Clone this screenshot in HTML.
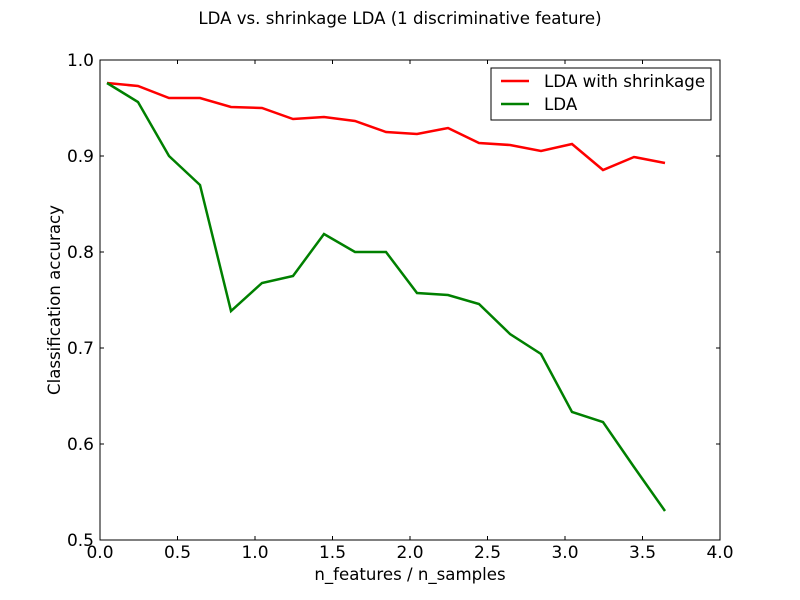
<!DOCTYPE html>
<html><head><meta charset="utf-8"><style>body{margin:0;background:#fff}svg{display:block}text{font-family:"DejaVu Sans","Liberation Sans",sans-serif;fill:#000}</style></head><body>
<svg width="800" height="600" viewBox="0 0 800 600">
<rect width="800" height="600" fill="#fff"/>
<text x="400" y="24" font-size="16.6" text-anchor="middle">LDA vs. shrinkage LDA (1 discriminative feature)</text>
<g stroke="#000" stroke-width="1">
<line x1="100" y1="540" x2="100" y2="536"/><line x1="100" y1="60" x2="100" y2="64"/>
<line x1="177.5" y1="540" x2="177.5" y2="536"/><line x1="177.5" y1="60" x2="177.5" y2="64"/>
<line x1="255" y1="540" x2="255" y2="536"/><line x1="255" y1="60" x2="255" y2="64"/>
<line x1="332.5" y1="540" x2="332.5" y2="536"/><line x1="332.5" y1="60" x2="332.5" y2="64"/>
<line x1="410" y1="540" x2="410" y2="536"/><line x1="410" y1="60" x2="410" y2="64"/>
<line x1="487.5" y1="540" x2="487.5" y2="536"/><line x1="487.5" y1="60" x2="487.5" y2="64"/>
<line x1="565" y1="540" x2="565" y2="536"/><line x1="565" y1="60" x2="565" y2="64"/>
<line x1="642.5" y1="540" x2="642.5" y2="536"/><line x1="642.5" y1="60" x2="642.5" y2="64"/>
<line x1="100" y1="156" x2="104" y2="156"/><line x1="720" y1="156" x2="716" y2="156"/>
<line x1="100" y1="252" x2="104" y2="252"/><line x1="720" y1="252" x2="716" y2="252"/>
<line x1="100" y1="348" x2="104" y2="348"/><line x1="720" y1="348" x2="716" y2="348"/>
<line x1="100" y1="444" x2="104" y2="444"/><line x1="720" y1="444" x2="716" y2="444"/>
</g>
<polyline fill="none" stroke="#ff0000" stroke-width="2.5" points="107,83 138,86 169,98 200,98 231,107 262,108 293,119 324,117 355,121 386,132 417,134 448,128 479,143 510,145 541,151 572,144 603,170 634,157 665,163"/>
<polyline fill="none" stroke="#008000" stroke-width="2.5" points="107,83 138,102 169,156 200,185 231,311 262,283 293,276 324,234 355,252 386,252 417,293 448,295 479,304 510,334 541,354 572,412 603,422 634,467 665,511"/>
<rect x="100" y="60" width="620" height="480" fill="none" stroke="#000" stroke-width="1"/>
<g font-size="17" text-anchor="middle">
<text x="100" y="558">0.0</text><text x="177.5" y="558">0.5</text><text x="255" y="558">1.0</text><text x="332.5" y="558">1.5</text><text x="410" y="558">2.0</text><text x="487.5" y="558">2.5</text><text x="565" y="558">3.0</text><text x="642.5" y="558">3.5</text><text x="720" y="558">4.0</text>
</g>
<g font-size="17" text-anchor="end">
<text x="94" y="66">1.0</text><text x="94" y="162">0.9</text><text x="94" y="258">0.8</text><text x="94" y="354">0.7</text><text x="94" y="450">0.6</text><text x="94" y="546">0.5</text>
</g>
<text x="410" y="580" font-size="16.6" text-anchor="middle">n_features / n_samples</text>
<text transform="translate(60,300) rotate(-90)" font-size="16.6" text-anchor="middle">Classification accuracy</text>
<rect x="491" y="68" width="220" height="52" fill="#fff" stroke="#000"/>
<line x1="501" y1="81" x2="529" y2="81" stroke="#ff0000" stroke-width="2.5"/>
<line x1="501" y1="104" x2="529" y2="104" stroke="#008000" stroke-width="2.5"/>
<text x="544" y="87" font-size="16.7">LDA with shrinkage</text>
<text x="544" y="110" font-size="16.7">LDA</text>
</svg>
</body></html>
